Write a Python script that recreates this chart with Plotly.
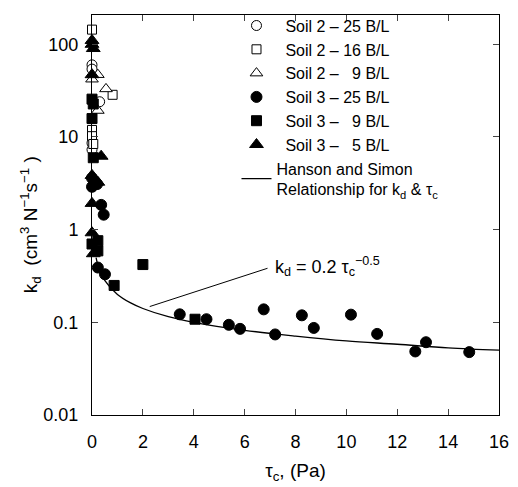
import math
import plotly.graph_objects as go

# ---- data ----
s2_25_tau = [0.0, 0.0, 0.3, 0.0, 0.0]
s2_25_kd = [60, 54, 24, 8.6, 7.3]

s2_16_tau = [0.0, 0.81, 0.0, 0.0, 0.05]
s2_16_kd = [144, 28.5, 11.9, 10.2, 8.4]

s2_9_tau = [0.23, 0.0, 0.55, 0.23]
s2_9_kd = [47, 42, 33, 19.3]

s3_25_tau = [0.0, 0.2, 0.0, 0.36, 0.46, 0.23, 0.51,
             3.45, 4.5, 5.38, 5.82, 6.75, 7.2, 8.25, 8.72, 10.18, 11.21, 12.71, 13.13, 14.83]
s3_25_kd = [3.6, 3.1, 2.9, 1.85, 1.45, 0.39, 0.33,
            0.122, 0.108, 0.094, 0.085, 0.138, 0.074, 0.119, 0.087, 0.121, 0.075, 0.0485, 0.061, 0.0477]

s3_9_tau = [0.0, 0.05, 0.0, 0.05, 0.0, 0.23, 0.23, 0.87, 2.0, 4.05]
s3_9_kd = [25.6, 22.7, 15.8, 5.97, 0.70, 0.76, 0.59, 0.25, 0.42, 0.108]

s3_5_tau = [0.0, 0.0, 0.05, 0.0, 0.36, 0.0, 0.23, 0.0, 0.0, 0.05]
s3_5_kd = [110, 100, 90, 47, 6.2, 3.85, 3.25, 1.92, 0.925, 0.55]

hs_tau = [0.16, 0.25, 0.5, 1, 1.5, 2, 3, 4, 6, 8, 10, 12, 14, 16]
hs_kd = [0.5, 0.4, 0.283, 0.2, 0.163, 0.141, 0.115, 0.1, 0.082, 0.071, 0.063, 0.058, 0.053, 0.05]

leader_tau = [2.27, 6.9]
leader_kd = [0.148, 0.383]

x_ticks = [0, 2, 4, 6, 8, 10, 12, 14, 16]
y_ticks = [0.01, 0.1, 1, 10, 100]
y_tick_text = ["0.01", "0.1", "1", "10", "100"]

FONT = "Liberation Sans, Arial, sans-serif"
NB = "\u00a0"
FS = "\u2007"

fig = go.Figure()

def add(x, y, name, symbol, size, fill):
    fig.add_trace(go.Scatter(
        x=x, y=y, mode="markers", name=name, cliponaxis=False,
        marker=dict(symbol=symbol, size=size, color=fill,
                    line=dict(color="black", width=1))))

add(s2_25_tau, s2_25_kd, NB*2 + "Soil 2 – 25 B/L", "circle", 10, "white")
add(s2_16_tau, s2_16_kd, NB*2 + "Soil 2 – 16 B/L", "square", 9, "white")
add(s2_9_tau, s2_9_kd, NB*2 + "Soil 2 – " + FS + "9 B/L", "triangle-up", 11, "white")
add(s3_25_tau, s3_25_kd, NB*2 + "Soil 3 – 25 B/L", "circle", 11, "black")
add(s3_9_tau, s3_9_kd, NB*2 + "Soil 3 – " + FS + "9 B/L", "square", 10, "black")
add(s3_5_tau, s3_5_kd, NB*2 + "Soil 3 – " + FS + "5 B/L", "triangle-up", 12, "black")

fig.add_trace(go.Scatter(
    x=hs_tau, y=hs_kd, mode="lines", line_shape="spline",
    name="Hanson and Simon<br>Relationship for k<sub>d</sub> & τ<sub>c</sub>",
    line=dict(color="black", width=1.3)))

fig.add_trace(go.Scatter(
    x=leader_tau, y=leader_kd, mode="lines", showlegend=False,
    line=dict(color="black", width=1)))

fig.add_annotation(
    x=7.1, y=math.log10(0.40), xref="x", yref="y",
    text="k<sub>d</sub> = 0.2 τ<sub>c</sub><sup>−0.5</sup>",
    showarrow=False, xanchor="left", yanchor="middle",
    font=dict(family=FONT, size=18, color="black"))

# y-axis title (as annotation for precise placement)
fig.add_annotation(
    x=-0.152, y=0.475, xref="paper", yref="paper",
    text="k<sub>d</sub>" + NB*2 + "(cm<sup>3</sup> N<sup>−1</sup>s<sup>−1</sup>" + NB + ")",
    textangle=-90, showarrow=False, xanchor="center", yanchor="middle",
    font=dict(family=FONT, size=19, color="black"))

fig.update_layout(
    width=518, height=487,
    margin=dict(l=92, r=14, t=9, b=69),
    paper_bgcolor="white", plot_bgcolor="white",
    font=dict(family=FONT, size=18, color="black"),
    showlegend=True,
    legend=dict(x=0.355, y=1.016, xanchor="left", yanchor="top",
                bgcolor="rgba(0,0,0,0)", borderwidth=0,
                font=dict(family=FONT, size=16, color="black"),
                tracegroupgap=0, itemwidth=30),
)

fig.update_xaxes(
    range=[0, 16], tickvals=x_ticks, ticks="inside", ticklen=6,
    showline=True, linecolor="black", linewidth=1, mirror="ticks",
    showgrid=False, zeroline=False, ticklabelstandoff=10,
    tickfont=dict(family=FONT, size=18),
    title=dict(text="τ<sub>c</sub>, (Pa)", standoff=13,
               font=dict(family=FONT, size=19)))

fig.update_yaxes(
    type="log", range=[-2, 2.316], tickvals=y_ticks, ticktext=y_tick_text,
    ticks="inside", ticklen=6,
    showline=True, linecolor="black", linewidth=1, mirror="ticks",
    showgrid=False, zeroline=False, ticklabelstandoff=9,
    tickfont=dict(family=FONT, size=18))

fig.write_html("out.html")
